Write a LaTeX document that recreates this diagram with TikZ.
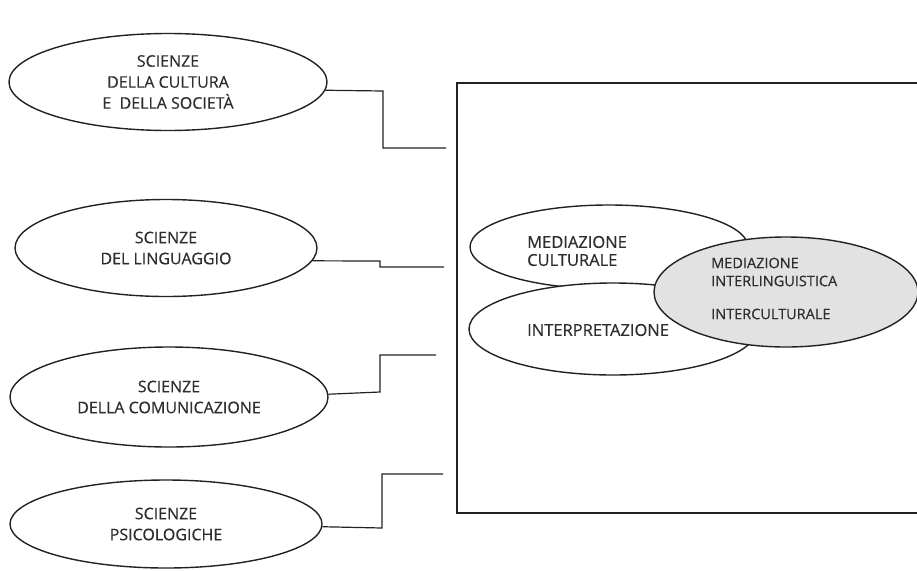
\documentclass[tikz,border=0pt]{standalone}
\usepackage{fontspec}
\setmainfont{Open Sans}[BoldFont=Open Sans,BoldFeatures={FakeBold=0.4}]
\usetikzlibrary{shapes.geometric}
\definecolor{ink}{HTML}{222222}
\definecolor{txt}{HTML}{2E2E2E}
\definecolor{shade}{HTML}{E2E2E2}
\begin{document}
\begin{tikzpicture}[x=1pt,y=-1pt,
  field/.style={ellipse,draw=ink,line width=1.4pt,fill=white,inner sep=0pt,
    align=center,text=txt,font=\bfseries\fontsize{16}{21}\selectfont},
  area/.style={ellipse,draw=ink,line width=1.4pt,fill=white,inner sep=0pt},
  lbl/.style={text=txt,align=left,anchor=west,inner sep=0pt,font=\bfseries\fontsize{16.5}{18}\selectfont},
  link/.style={draw=ink,line width=1.2pt}]
\clip (0,0) rectangle (917,570);
\fill[white] (0,0) rectangle (917,570);

% frame holding the mediation areas
\draw[draw=ink,line width=1.4pt] (457,83) rectangle (940,513);

% disciplines on the left
\node[field,minimum width=318pt,minimum height=97pt] (e1) at (168,82)
  {SCIENZE\\DELLA CULTURA\\E\ \ DELLA SOCIETÀ};
\node[field,minimum width=302pt,minimum height=97pt] (e2) at (166,248)
  {SCIENZE\\DEL LINGUAGGIO};
\node[field,minimum width=318pt,minimum height=100pt] (e3) at (169,397)
  {SCIENZE\\DELLA COMUNICAZIONE};
\node[field,minimum width=312pt,minimum height=88pt] (e4) at (166,524)
  {SCIENZE\\PSICOLOGICHE};

% free ends of the connectors at the frame
\coordinate (c1) at (446,148);
\coordinate (c2) at (444,267);
\coordinate (c3) at (436,355);
\coordinate (c4) at (443,474);

\draw[link] (e1.-3.3) -- (383,91) -- (383,148) -- (c1);
\draw[link] (e2.-5.1) -- (380,261) -- (380,267) -- (c2);
\draw[link] (e3.1.8) -- (380,392) -- (380,355) -- (c3);
\draw[link] (e4.-1.5) -- (382,528) -- (382,474) -- (c4);

% mediation areas inside the frame
\node[area,minimum width=278pt,minimum height=84pt] (mc) at (609,247) {};
\node[area,minimum width=288pt,minimum height=92pt] (ip) at (613,329) {};
\node[area,fill=shade,minimum width=264pt,minimum height=110pt] (mi) at (786,292) {};

\node[lbl] (tmc) at (527,251) {MEDIAZIONE\\CULTURALE};
\node[lbl] (tip) at (527,330) {INTERPRETAZIONE};
\node[lbl,font=\bfseries\fontsize{14.5}{18}\selectfont] (tmi) at (711,272) {MEDIAZIONE\\INTERLINGUISTICA};
\node[lbl,font=\bfseries\fontsize{14.5}{18}\selectfont] (tic) at (711,314) {INTERCULTURALE};
\end{tikzpicture}
\end{document}
